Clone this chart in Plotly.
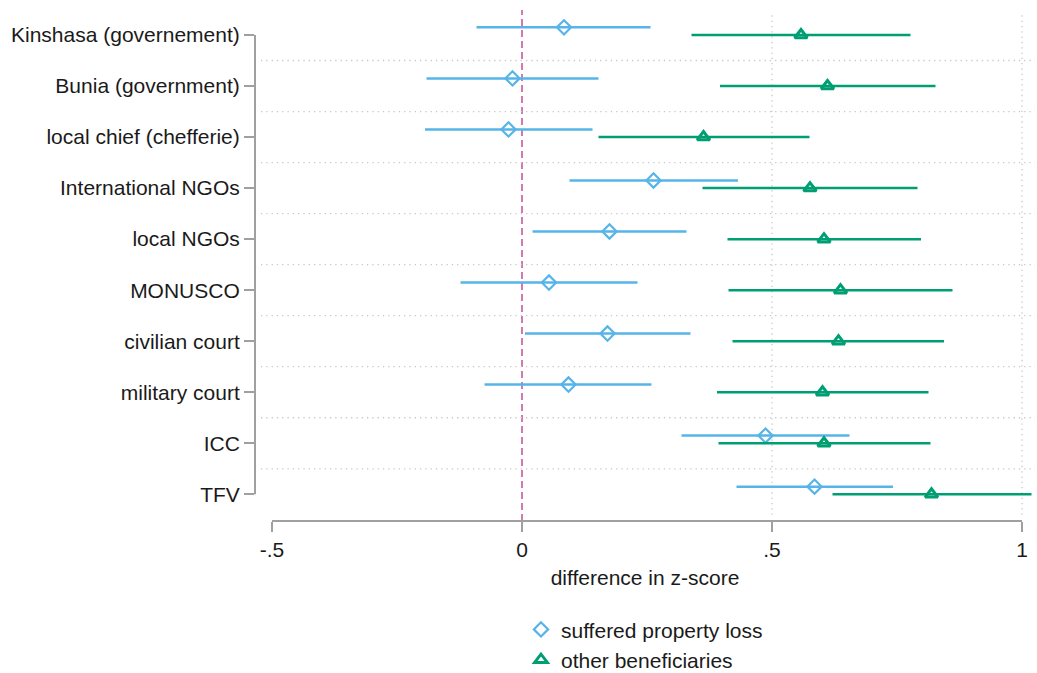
import plotly.graph_objects as go

categories = ["Kinshasa (governement)", "Bunia (government)", "local chief (chefferie)",
              "International NGOs", "local NGOs", "MONUSCO", "civilian court",
              "military court", "ICC", "TFV"]

loss_est = [0.084, -0.019, -0.027, 0.263, 0.175, 0.054, 0.171, 0.093, 0.487, 0.585]
loss_lo = [-0.091, -0.191, -0.194, 0.095, 0.021, -0.123, 0.006, -0.075, 0.319, 0.429]
loss_hi = [0.257, 0.153, 0.141, 0.432, 0.329, 0.231, 0.337, 0.259, 0.655, 0.742]

other_est = [0.558, 0.611, 0.363, 0.576, 0.604, 0.637, 0.633, 0.601, 0.604, 0.819]
other_lo = [0.339, 0.396, 0.153, 0.361, 0.411, 0.413, 0.421, 0.390, 0.393, 0.621]
other_hi = [0.777, 0.827, 0.575, 0.791, 0.798, 0.861, 0.844, 0.813, 0.817, 1.019]

x_ticks = [-0.5, 0, 0.5, 1]
x_ticklabels = ["-.5", "0", ".5", "1"]

BLUE = "#56B4E9"
GREEN = "#009E73"
PINK = "#D27AAE"
GRID = "#c8c8c8"
AXIS = "#a0a0a0"
FONT = "Liberation Sans, Arial, sans-serif"

pos = list(range(1, len(categories) + 1))
pos_loss = [p - 0.15 for p in pos]

fig = go.Figure()
fig.add_trace(go.Scatter(
    x=loss_est, y=pos_loss, mode="markers", name="suffered property loss",
    marker=dict(symbol="diamond-open", size=11, color=BLUE, line=dict(width=2.2, color=BLUE)),
    error_x=dict(type="data", symmetric=False,
                 array=[h - e for h, e in zip(loss_hi, loss_est)],
                 arrayminus=[e - l for e, l in zip(loss_est, loss_lo)],
                 width=0, thickness=2.5, color=BLUE),
))
fig.add_trace(go.Scatter(
    x=other_est, y=pos, mode="markers", name="other beneficiaries",
    marker=dict(symbol="triangle-up-open", size=11, color=GREEN, line=dict(width=3, color=GREEN)),
    error_x=dict(type="data", symmetric=False,
                 array=[h - e for h, e in zip(other_hi, other_est)],
                 arrayminus=[e - l for e, l in zip(other_est, other_lo)],
                 width=0, thickness=2.5, color=GREEN),
))

shapes = []
# horizontal dotted gridlines between categories
for p in pos[:-1]:
    shapes.append(dict(type="line", xref="x", yref="y", x0=-0.522, x1=1.026,
                       y0=p + 0.5, y1=p + 0.5, line=dict(color=GRID, width=1.3, dash="1.3px,4px"),
                       layer="below"))
# vertical dotted gridlines
for v in [0.5, 1]:
    shapes.append(dict(type="line", xref="x", yref="paper", x0=v, x1=v, y0=0.012, y1=0.986,
                       line=dict(color=GRID, width=1.3, dash="1.3px,4px"), layer="below"))
# zero line
shapes.append(dict(type="line", xref="x", yref="paper", x0=0, x1=0, y0=0.0, y1=0.996,
                   line=dict(color=PINK, width=2, dash="7px,4px"), layer="below"))
# y axis line (between first and last category)
shapes.append(dict(type="line", xref="paper", yref="y", x0=0, x1=0, y0=pos[0], y1=pos[-1],
                   line=dict(color=AXIS, width=2)))
# x axis line (between first and last tick)
shapes.append(dict(type="line", xref="x", yref="paper", x0=x_ticks[0], x1=x_ticks[-1], y0=0, y1=0,
                   line=dict(color=AXIS, width=2)))

fig.update_layout(
    width=1037, height=673,
    margin=dict(l=255, r=2, t=8, b=152, autoexpand=False),
    paper_bgcolor="white", plot_bgcolor="white",
    font=dict(family=FONT, size=21, color="#1a1a1a"),
    shapes=shapes,
    showlegend=True,
    legend=dict(x=0.341, y=-0.172, xanchor="left", yanchor="top",
                font=dict(size=21, family=FONT, color="#1a1a1a"),
                bgcolor="rgba(0,0,0,0)", itemwidth=30, tracegroupgap=0,
                borderwidth=0, maxheight=300),
    xaxis=dict(range=[-0.534, 1.026], tickvals=x_ticks, ticktext=x_ticklabels,
               showgrid=False, zeroline=False, showline=False, automargin=False,
               ticks="outside", ticklen=10, tickwidth=2, tickcolor=AXIS,
               tickfont=dict(size=21),
               title=dict(text="difference in z-score", font=dict(size=21), standoff=10)),
    yaxis=dict(range=[10.523, 0.471], tickvals=pos, ticktext=categories,
               showgrid=False, zeroline=False, showline=False, automargin=False,
               ticks="outside", ticklen=10, tickwidth=2, tickcolor=AXIS,
               tickfont=dict(size=21)),
)

fig.write_html("out.html", config={"displayModeBar": False},
               post_script="document.body.style.margin='0';document.body.style.overflow='hidden';")
